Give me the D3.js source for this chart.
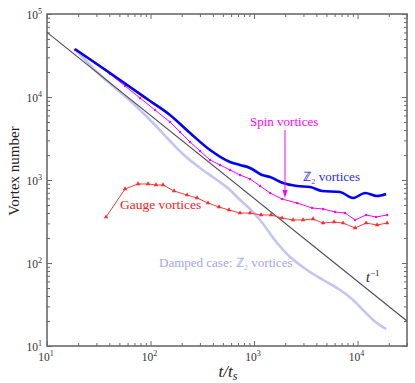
<!DOCTYPE html>
<html><head><meta charset="utf-8">
<script src="https://cdn.jsdelivr.net/npm/d3@7/dist/d3.min.js"></script>
<style>body{margin:0;background:#fff}svg{display:block}</style>
</head><body>
<script>
// ---- data ----
const z2T = [18.6, 40.6, 98.9, 154, 241, 376, 586, 732, 915, 1195, 1427, 1906, 2603, 3476, 4539, 6775, 9050, 11815, 15430, 18860];
const z2N = [37870, 19450, 8950, 6070, 3680, 2296, 1647, 1517, 1397, 1148, 1086, 920, 847, 824, 737, 717, 607, 697, 641, 678];

const spinT = [18.6, 29.1, 40.6, 56.7, 79.2, 110.5, 154.3, 192.8, 240.8, 300.8, 375.7, 469.4, 586.4, 732.2, 915, 1143, 1427, 1865, 2603, 3634, 4642, 6063, 7573, 9459, 12082, 15090, 19280];
const spinN = [36810, 25700, 18920, 13570, 9725, 6970, 5000, 3788, 2871, 2234, 1741, 1517, 1320, 1148, 1028, 847, 697, 590, 528, 460, 447, 412, 400, 330, 379, 358, 379];

const gaugeT = [37.2, 56.7, 75.7, 94.6, 113.0, 132.1, 168.7, 225.3, 281.4, 359.4, 459.0, 573.5, 732.2, 915, 1168, 1459, 1865, 2382, 2974, 3715, 4642, 5929, 7244, 9459, 12082, 15430, 19280];
const gaugeN = [358, 779, 895, 895, 871, 871, 737, 659, 607, 528, 473, 435, 400, 400, 379, 379, 348, 330, 330, 339, 303, 312, 303, 264, 303, 287, 303];

const dampT = [18.6, 30.4, 50.7, 79.2, 110.5, 154.3, 215.4, 300.8, 439.0, 586.4, 732.2, 915, 1143, 1668, 2227, 3252, 4642, 6775, 9050, 11300, 14120, 18860];
const dampN = [37870, 20010, 11490, 6970, 4602, 2951, 1945, 1397, 1000, 758, 574, 447, 330, 174, 118, 82.4, 62.4, 47.3, 35.8, 27.1, 20.6, 16.0];

const refT = [10, 30000];
const refN = refT.map(t => 6e5 / t);   // t^-1 guide

const xMajor = [10, 100, 1000, 10000];
const xMajorExp = ["1", "2", "3", "4"];
const yMajor = [10, 100, 1000, 10000, 100000];
const yMajorExp = ["1", "2", "3", "4", "5"];

// ---- layout ----
const W = 415, H = 383;
const L = 47, R = 407, T = 14, B = 346;
const svg = d3.select("body").append("svg").attr("width", W).attr("height", H);
const x = d3.scaleLog().domain([10, 30000]).range([L, R]);
const y = d3.scaleLog().domain([10, 100000]).range([B, T]);

const serif = "'Liberation Serif','Times New Roman',serif";

function minors(lo, hi) {
  const out = [];
  for (let d = lo; d < hi; d *= 10) for (let k = 2; k <= 9; k++) if (d * k <= hi) out.push(d * k);
  return out;
}
const xMinor = minors(10, 30000);
const yMinor = minors(10, 100000);

const axisColor = "#6b6b6b";
function drawAxis(gen, tr, vals, size) {
  const g = svg.append("g").attr("transform", tr)
    .call(gen.tickValues(vals).tickSize(size).tickFormat(""));
  g.select(".domain").remove();
  g.selectAll("line").attr("stroke", axisColor).attr("stroke-width", 1);
}
drawAxis(d3.axisBottom(x), `translate(0,${B})`, xMajor, -5);
drawAxis(d3.axisBottom(x), `translate(0,${B})`, xMinor, -3);
drawAxis(d3.axisTop(x), `translate(0,${T})`, xMajor, -5);
drawAxis(d3.axisTop(x), `translate(0,${T})`, xMinor, -3);
drawAxis(d3.axisLeft(y), `translate(${L},0)`, yMajor, -5);
drawAxis(d3.axisLeft(y), `translate(${L},0)`, yMinor, -3);
drawAxis(d3.axisRight(y), `translate(${R},0)`, yMajor, -5);
drawAxis(d3.axisRight(y), `translate(${R},0)`, yMinor, -3);

svg.append("rect").attr("x", L).attr("y", T).attr("width", R - L).attr("height", B - T)
  .attr("fill", "none").attr("stroke", axisColor).attr("stroke-width", 1.6);

xMajor.forEach((v, i) => {
  const t = svg.append("text").attr("x", x(v) - 1).attr("y", 361)
    .attr("text-anchor", "middle").attr("font-family", serif).attr("font-size", 11.5).attr("fill", "#333");
  t.append("tspan").text("10");
  t.append("tspan").attr("dy", -5).attr("font-size", 8).text(xMajorExp[i]);
});
yMajor.forEach((v, i) => {
  const t = svg.append("text").attr("x", 42).attr("y", y(v) + 4.5)
    .attr("text-anchor", "end").attr("font-family", serif).attr("font-size", 11.5).attr("fill", "#333");
  t.append("tspan").text("10");
  t.append("tspan").attr("dy", -5).attr("font-size", 8).text(yMajorExp[i]);
});

svg.append("text").attr("transform", "translate(19,171) rotate(-90)")
  .attr("text-anchor", "middle").attr("font-family", serif).attr("font-size", 15).attr("fill", "#222")
  .text("Vortex number");
const xt = svg.append("text").attr("x", 228).attr("y", 377).attr("text-anchor", "middle")
  .attr("font-family", serif).attr("font-size", 17).attr("font-style", "italic").attr("fill", "#222");
xt.append("tspan").text("t/t");
xt.append("tspan").attr("dy", 3).attr("font-size", 12).text("s");

svg.append("clipPath").attr("id", "c").append("rect")
  .attr("x", L).attr("y", T).attr("width", R - L).attr("height", B - T);
const plot = svg.append("g").attr("clip-path", "url(#c)");
const line = d3.line().x(d => x(d[0])).y(d => y(d[1]));
const smooth = d3.line().x(d => x(d[0])).y(d => y(d[1])).curve(d3.curveMonotoneX);
const zip = (a, b) => a.map((v, i) => [v, b[i]]);

plot.append("path").datum(zip(dampT, dampN)).attr("d", smooth)
  .attr("fill", "none").attr("stroke", "#c4c4f6").attr("stroke-width", 2.6).attr("stroke-linejoin", "round");
plot.append("path").datum(zip(refT, refN)).attr("d", line)
  .attr("fill", "none").attr("stroke", "#4a4a4a").attr("stroke-width", 1.1);
plot.append("path").datum(zip(spinT, spinN)).attr("d", line)
  .attr("fill", "none").attr("stroke", "#ff00ff").attr("stroke-width", 1);
plot.selectAll(".sd").data(zip(spinT, spinN)).join("circle")
  .attr("cx", d => x(d[0])).attr("cy", d => y(d[1])).attr("r", 1.2).attr("fill", "#ff00ff");
plot.append("path").datum(zip(z2T, z2N)).attr("d", smooth)
  .attr("fill", "none").attr("stroke", "#0000ff").attr("stroke-width", 2.6).attr("stroke-linejoin", "round");
plot.append("path").datum(zip(gaugeT, gaugeN)).attr("d", line)
  .attr("fill", "none").attr("stroke", "#ff3b3b").attr("stroke-width", 1);
plot.selectAll(".gm").data(zip(gaugeT, gaugeN)).join("path")
  .attr("transform", d => `translate(${x(d[0])},${y(d[1])})`)
  .attr("d", d3.symbol(d3.symbolTriangle, 9)).attr("fill", "#ff2a2a");

svg.append("text").attr("x", 250).attr("y", 126).attr("font-family", serif).attr("font-size", 13)
  .attr("fill", "#ff00ff").text("Spin vortices");
svg.append("line").attr("x1", 285).attr("y1", 130).attr("x2", 285).attr("y2", 193)
  .attr("stroke", "#ff00ff").attr("stroke-width", 1);
svg.append("path").attr("d", "M282.5,190 L285,198 L287.5,190 Z").attr("fill", "#ff00ff");

svg.append("text").attr("x", 303).attr("y", 181).attr("font-family", serif).attr("font-size", 13)
  .attr("fill", "#2a2aff").text("ℤ₂ vortices");
svg.append("text").attr("x", 120).attr("y", 209).attr("font-family", serif).attr("font-size", 13.5)
  .attr("fill", "#ff2020").text("Gauge vortices");
svg.append("text").attr("x", 159).attr("y", 267).attr("font-family", serif).attr("font-size", 13)
  .attr("fill", "#a3a3f8").text("Damped case: ℤ₂ vortices");
const tl = svg.append("text").attr("x", 366).attr("y", 282).attr("font-family", serif).attr("font-size", 14)
  .attr("fill", "#222");
tl.append("tspan").attr("font-style", "italic").text("t");
tl.append("tspan").attr("dy", -6).attr("font-size", 9).text("−1");
</script>
</body></html>
